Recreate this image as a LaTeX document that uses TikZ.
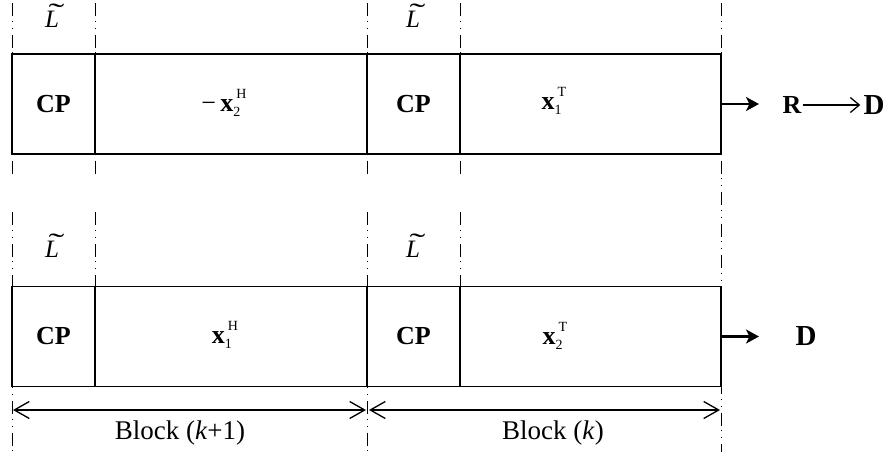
\documentclass[tikz,border=0pt]{standalone}
\usepackage{fontspec}
\setmainfont{Liberation Serif}
\usetikzlibrary{arrows.meta,calc}
\newcommand\vecxx[2]{\textbf{x}\rlap{\raisebox{-5pt}{\fontsize{14}{14}\selectfont #1}}\raisebox{13pt}{\fontsize{14}{14}\selectfont\hspace{3pt}#2}}
\newcommand\Ltil{\leavevmode\rlap{\hspace{3.5pt}\raisebox{5pt}{\upshape\scalebox{1.9}[1.1]{\char"02DC}}}\textit{L}}
\tikzset{
  cell/.style={draw, line width=1.3pt, inner sep=0pt, outer sep=0pt, minimum height=100pt},
  cptext/.style={font=\fontsize{26}{30}\selectfont\bfseries},
  bigD/.style={font=\fontsize{29}{32}\selectfont\bfseries, inner sep=0pt},
  lab/.style={font=\fontsize{26}{30}\selectfont, inner sep=0pt},
  blab/.style={font=\fontsize{27}{30}\selectfont, inner sep=0pt},
  ltil/.style={font=\fontsize{25}{28}\selectfont, inner sep=0pt},
  guide/.style={line width=0.9pt, dash pattern=on 13pt off 4.5pt on 1pt off 6pt on 1pt off 6pt},
  outarrow/.style={line width=2.5pt, -{Stealth[length=13pt,width=14pt,inset=3.5pt]}},
  thinarrow/.style={line width=1.3pt, -{Straight Barb[length=9pt,width=15pt]}},
  blockarrow/.style={line width=1.3pt, {Straight Barb[length=15pt,width=17pt]}-{Straight Barb[length=15pt,width=17pt]}}
}
\begin{document}
\begin{tikzpicture}[x=1pt,y=-1pt]
\useasboundingbox (0,0) rectangle (894,458);
% guide lines
\draw[guide] (12,3) -- (12,177);
\draw[guide] (95,3) -- (95,177);
\draw[guide] (367,3) -- (367,177);
\draw[guide] (460,3) -- (460,177);
\draw[guide] (721,3) -- (721,452);
\draw[guide] (12,212) -- (12,452);
\draw[guide] (95,212) -- (95,387);
\draw[guide] (367,212) -- (367,452);
\draw[guide] (460,212) -- (460,387);
% top row
\node[cell, minimum width=83pt, cptext] (cpa) at (53.5,104) {CP};
\node[cell, minimum width=272pt] (da) at (231,104) {};
\node[cell, minimum width=93pt, cptext] (cpb) at (413.5,104) {CP};
\node[cell, minimum width=261pt] (db) at (590.5,104) {};
\node[lab] (la) at (224,103) {−\,\vecxx{2}{H}};
\node[lab] (lb) at (554,101) {\vecxx{1}{T}};
% bottom row
\node[cell, minimum width=83pt, cptext] (cpc) at (53.5,336.5) {CP};
\node[cell, minimum width=272pt] (dc) at (231,336.5) {};
\node[cell, minimum width=93pt, cptext] (cpd) at (413.5,336.5) {CP};
\node[cell, minimum width=261pt] (dd) at (590.5,336.5) {};
\node[lab] (lc) at (225,335) {\vecxx{1}{H}};
\node[lab] (ld) at (555,336) {\vecxx{2}{T}};
% L tilde labels
\node[ltil] (t1) at (52,16) {\Ltil};
\node[ltil] (t2) at (413,16) {\Ltil};
\node[ltil] (t3) at (52,246) {\Ltil};
\node[ltil] (t4) at (413,246) {\Ltil};
% outputs
\node[cptext, inner sep=0pt] (R) at (792,105) {R};
\node[bigD] (D1) at (874,105) {D};
\node[bigD] (D2) at (806,336) {D};
\coordinate (e1) at (759,104);
\draw[outarrow] (db.east) -- (e1);
\draw[outarrow] (dd.east) -- (dd.east -| e1);
\draw[thinarrow] ($(R.east)+(1,0)$) -- ($(D1.west)+(-3,0)$);
% block arrows
\coordinate (b1) at (13,410);
\coordinate (b2) at (366,410);
\coordinate (b3) at (369,410);
\coordinate (b4) at (720,410);
\draw[blockarrow] (b1) -- (b2);
\draw[blockarrow] (b3) -- (b4);
\node[blab] (k1) at (180,433) {Block (\textit{k}+1)};
\node[blab] (k2) at (553,433) {Block (\textit{k})};
\end{tikzpicture}
\end{document}
